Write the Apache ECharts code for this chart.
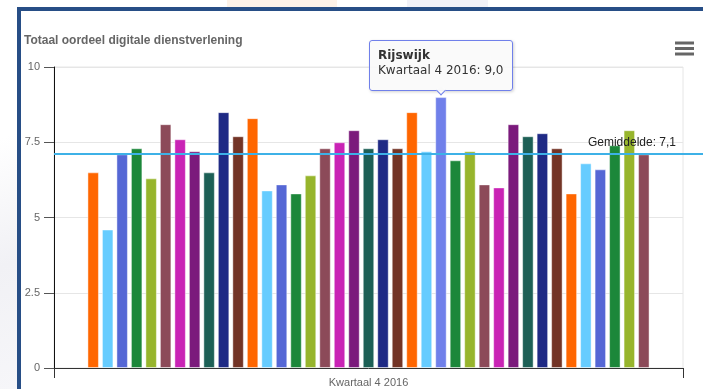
<!DOCTYPE html>
<html>
<head>
<meta charset="utf-8">
<title>Totaal oordeel digitale dienstverlening</title>
<script src="https://cdn.jsdelivr.net/npm/echarts@6/dist/echarts.min.js"></script>
<style>
  html, body { margin: 0; padding: 0; width: 703px; height: 389px; overflow: hidden; background: #fff; }
  .deco { position: absolute; }
  #frame {
    position: absolute; left: 17px; top: 7px; right: -10px; bottom: -10px;
    border-left: 4px solid #274e86; border-top: 4px solid #274e86; background: #fff;
  }
  #chart { position: absolute; left: 0; top: 0; width: 703px; height: 389px; }
</style>
</head>
<body>
<div class="deco" style="left:227px;top:0;width:110px;height:8px;background:#fdf2e8;"></div>
<div class="deco" style="left:407px;top:0;width:81px;height:8px;background:#f2f2f8;"></div>
<div class="deco" style="left:0;top:110px;width:17px;height:279px;background:linear-gradient(160deg,#ffffff 10%,#f1f1f5 55%,#f6f6f9 100%);"></div>
<div id="frame"></div>
<div id="chart"></div>
<script>
// Quarter shown on the category axis
const category = 'Kwartaal 4 2016';

// Score per municipality (one bar series each), left to right
const scores = [
  6.5, 4.6, 7.1, 7.3, 6.3, 8.1, 7.6, 7.2, 6.5, 8.5,
  7.7, 8.3, 5.9, 6.1, 5.8, 6.4, 7.3, 7.5, 7.9, 7.3,
  7.6, 7.3, 8.5, 7.2, 9.0, 6.9, 7.2, 6.1, 6.0, 8.1,
  7.7, 7.8, 7.3, 5.8, 6.8, 6.6, 7.4, 7.9, 7.1
];

// The municipality whose tooltip is open
const activeIndex = 24;
const activeName = 'Rijswijk';

// Colour cycle for the series, plus the brighter hover tone
const palette = [
  '#ff6600', '#66ccff', '#5567d5', '#1c873a', '#97b52c', '#8c4a59',
  '#c923b5', '#7b1a7c', '#1d6056', '#1f2a85', '#733426'
];
const activeColor = '#7080ea';

// Y axis ticks
const yMin = 0, yMax = 10, yStep = 2.5;

const FONT = "'Liberation Sans', Arial, Helvetica, sans-serif";
const TIP_FONT = "'DejaVu Sans', Verdana, sans-serif";
const nl = v => v.toFixed(1).replace('.', ',');

const mean = scores.reduce((a, b) => a + b, 0) / scores.length;

const barSeries = scores.map((v, i) => ({
  type: 'bar',
  id: 'gemeente-' + i,
  name: i === activeIndex ? activeName : '',
  data: [v],
  xAxisIndex: 0,
  yAxisIndex: 0,
  barWidth: 11.5,
  barGap: '26%',
  itemStyle: {
    color: i === activeIndex ? activeColor : palette[i % palette.length],
    borderColor: 'rgba(255,255,255,0.45)',
    borderWidth: 1
  },
  emphasis: { disabled: true },
  z: 2
}));

const meanSeries = {
  type: 'line',
  id: 'gemiddelde',
  xAxisIndex: 1,
  yAxisIndex: 1,
  data: [],
  silent: true,
  z: 5,
  markLine: {
    silent: true,
    symbol: ['none', 'none'],
    animation: false,
    data: [{ yAxis: mean }],
    lineStyle: { color: '#3db1e7', width: 2, type: 'solid' },
    label: {
      show: true,
      position: 'insideEndTop',
      distance: [27, 5],
      formatter: 'Gemiddelde: ' + nl(mean),
      color: '#222',
      fontFamily: FONT,
      fontSize: 12
    }
  }
};

const chart = echarts.init(document.getElementById('chart'), null, { renderer: 'canvas' });

chart.setOption({
  animation: false,
  backgroundColor: 'transparent',
  title: {
    text: 'Totaal oordeel digitale dienstverlening',
    left: 24,
    top: 35,
    padding: 0,
    textStyle: { fontFamily: FONT, fontSize: 12, fontWeight: 'bold', color: '#666' }
  },
  grid: [
    { left: 54, right: 20, top: 67, bottom: 21, show: true, borderColor: '#e6e6e6', borderWidth: 1, backgroundColor: 'transparent' },
    { left: 54, right: 0, top: 67, bottom: 21 }
  ],
  xAxis: [
    {
      gridIndex: 0,
      type: 'category',
      data: [category],
      boundaryGap: true,
      axisLine: { lineStyle: { color: '#333', width: 1 } },
      axisTick: { show: true, length: 10, lineStyle: { color: '#333' } },
      axisLabel: { color: '#666', fontFamily: FONT, fontSize: 11, margin: 9 },
      splitLine: { show: false }
    },
    { gridIndex: 1, type: 'value', min: 0, max: 1, show: false }
  ],
  yAxis: [
    {
      gridIndex: 0,
      type: 'value',
      min: yMin,
      max: yMax,
      interval: yStep,
      axisLine: { show: true, lineStyle: { color: '#111', width: 1 } },
      axisTick: { show: true, length: 10, lineStyle: { color: '#555' } },
      axisLabel: { color: '#666', fontFamily: FONT, fontSize: 11, margin: 14 },
      splitLine: { show: true, lineStyle: { color: '#e6e6e6' } }
    },
    { gridIndex: 1, type: 'value', min: yMin, max: yMax, show: false }
  ],
  tooltip: {
    trigger: 'item',
    triggerOn: 'none',
    alwaysShowContent: true,
    showDelay: 0,
    transitionDuration: 0,
    position: 'top',
    backgroundColor: 'rgba(250,250,250,0.92)',
    borderColor: activeColor,
    borderWidth: 1,
    borderRadius: 3,
    padding: [7, 9, 12, 8],
    extraCssText: 'box-shadow: 1px 1px 3px rgba(0,0,0,0.18); line-height: 15px; margin-top: 4px;',
    textStyle: { fontFamily: TIP_FONT, fontSize: 12, color: '#333' },
    formatter: p => '<b>' + p.seriesName + '</b><br/>' + p.name + ': ' + nl(p.value)
  },
  graphic: [
    { type: 'rect', shape: { x: 675, y: 41.5, width: 19, height: 3 }, style: { fill: '#666' }, silent: true },
    { type: 'rect', shape: { x: 675, y: 47, width: 19, height: 3 }, style: { fill: '#666' }, silent: true },
    { type: 'rect', shape: { x: 675, y: 52.5, width: 19, height: 3 }, style: { fill: '#666' }, silent: true }
  ],
  series: barSeries.concat([meanSeries])
});

chart.dispatchAction({ type: 'showTip', seriesIndex: activeIndex, dataIndex: 0 });
</script>
</body>
</html>
